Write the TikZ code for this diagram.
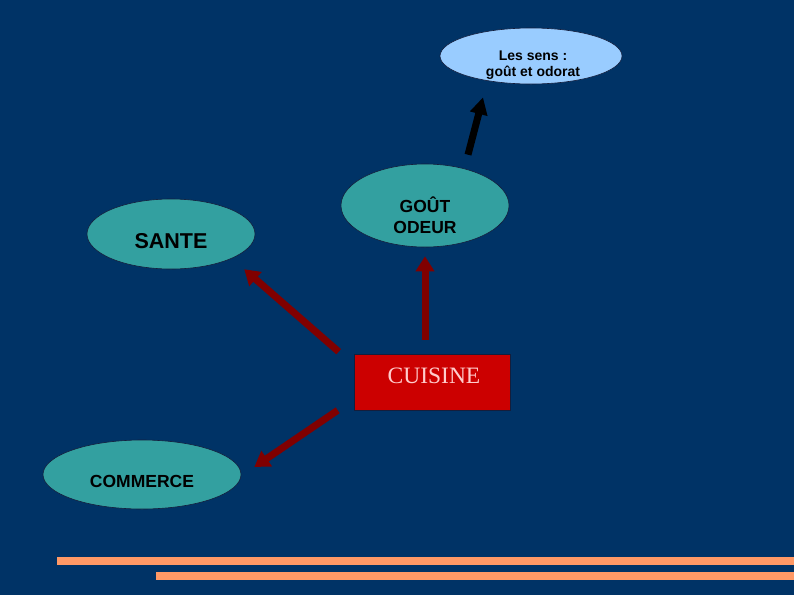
\documentclass[tikz,border=0pt]{standalone}
\usepackage{fontspec}
\setmainfont{Liberation Sans}
\newfontfamily\serifx{Liberation Serif}
\usetikzlibrary{shapes.geometric,arrows.meta,calc}
\definecolor{bgblue}{RGB}{0,51,102}
\definecolor{tealx}{RGB}{51,160,160}
\definecolor{skyx}{RGB}{153,204,255}
\definecolor{redbox}{RGB}{204,0,0}
\definecolor{darkred}{RGB}{128,0,0}
\definecolor{pinkx}{RGB}{255,204,204}
\definecolor{orangex}{RGB}{255,153,102}
\definecolor{rimx}{RGB}{20,30,60}
\tikzset{
  oval/.style={ellipse, draw=rimx, line width=0.6pt, fill=tealx, inner sep=0pt},
  txt/.style={align=center, font=\bfseries, inner sep=0pt, text=black},
  redarrow/.style={draw=darkred, line width=7pt, -{Triangle[width=18pt,length=15pt]}},
  blackarrow/.style={draw=black, line width=7pt, -{Triangle[width=17pt,length=17pt]}},
  bar/.style={fill=orangex, draw=none}
}
\begin{document}
\begin{tikzpicture}[x=1pt,y=-1pt]
\fill[bgblue] (0,0) rectangle (794,595);
\useasboundingbox (0,0) rectangle (794,595);

\node[oval, fill=skyx, minimum width=182pt, minimum height=56pt,
  label={[txt, font=\bfseries\fontsize{14}{16}\selectfont, yshift=-9pt, xshift=2pt]center:Les sens :\\ goût et odorat}] (sens) at (531,56) {};
\node[oval, minimum width=168pt, minimum height=83pt,
  label={[txt, font=\bfseries\fontsize{17.5}{21}\selectfont, yshift=-10pt]center:GOÛT\\ ODEUR}] (gout) at (425,205.5) {};
\node[oval, minimum width=168pt, minimum height=70pt,
  label={[txt, font=\bfseries\fontsize{21.5}{24}\selectfont, yshift=-7.5pt]center:SANTE}] (sante) at (171,234) {};
\node[oval, minimum width=198pt, minimum height=69pt,
  label={[txt, font=\bfseries\fontsize{17.5}{20}\selectfont, yshift=-7pt]center:COMMERCE}] (commerce) at (142,474.5) {};
\node[rectangle, draw=rimx, line width=0.6pt, fill=redbox, minimum width=156pt, minimum height=56pt, inner sep=0pt,
  label={[text=pinkx, inner sep=0pt, font=\serifx\fontsize{23.5}{26}\selectfont, yshift=6pt, xshift=2pt]center:CUISINE}] (cuisine) at (432,382) {};

\draw[blackarrow] ($(gout.north)+(43,-9)$) -- ($(sens.south)+(-48,13)$);
\draw[redarrow] ($(cuisine.north west)+(-15,-2)$) -- ($(sante.south east)+(13.6,10.3)$);
\draw[redarrow] ($(cuisine.north)+(-7,-14)$) -- ($(gout.south)+(0,9)$);
\draw[redarrow] ($(cuisine.south west)+(-16,0)$) -- ($(commerce.east)+(13,-7.5)$);

\fill[bar] (57,557) rectangle (794,564.5);
\fill[bar] (156,572) rectangle (794,580);
\end{tikzpicture}
\end{document}
